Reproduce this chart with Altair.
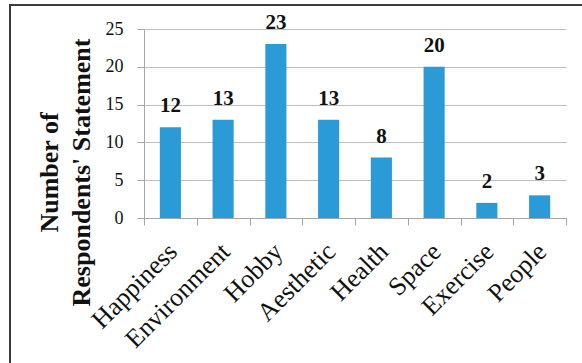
import altair as alt
import pandas as pd

# Reasons given by respondents and how many statements mention each
categories = ["Happiness", "Environment", "Hobby", "Aesthetic",
              "Health", "Space", "Exercise", "People"]
counts = [12, 13, 23, 13, 8, 20, 2, 3]
y_ticks = [0, 5, 10, 15, 20, 25]

df = pd.DataFrame({"reason": categories, "count": counts})

SERIF = "Liberation Serif"
TEXT = "#111111"
AXIS_GREY = "#A6A6A6"
BAR_BLUE = "#2A9BD7"

x_enc = alt.X(
    "reason:N",
    sort=categories,
    scale=alt.Scale(paddingInner=0, paddingOuter=0),
    axis=alt.Axis(
        title=None,
        labelAngle=-45,
        labelAlign="right",
        labelBaseline="top",
        labelPadding=13,
        labelOffset=-7,
        labelFont=SERIF,
        labelFontSize=26,
        labelColor=TEXT,
        tickBand="extent",
        tickSize=7,
        tickColor=AXIS_GREY,
        domainColor=AXIS_GREY,
        grid=False,
    ),
)

y_enc = alt.Y(
    "count:Q",
    scale=alt.Scale(domain=[0, 25], nice=False),
    axis=alt.Axis(
        values=y_ticks,
        title=["Number of", "Respondents' Statement"],
        titleFont=SERIF,
        titleFontSize=26,
        titleFontWeight="bold",
        titleColor=TEXT,
        titleAngle=270,
        titleAlign="center",
        titleBaseline="alphabetic",
        titleX=-87,
        titleY=143,
        titleLineHeight=32,
        labelFont=SERIF,
        labelFontSize=18,
        labelColor=TEXT,
        labelPadding=14,
        tickSize=7,
        tickColor=AXIS_GREY,
        domainColor=AXIS_GREY,
        gridColor="#BFBFBF",
        grid=True,
    ),
)

bars = alt.Chart(df).mark_bar(
    color=BAR_BLUE, width=alt.RelativeBandSize(0.4)
).encode(x=x_enc, y=y_enc)

labels = alt.Chart(df).mark_text(
    dy=-15, baseline="alphabetic", font=SERIF, fontSize=21,
    fontWeight="bold", color=TEXT,
).encode(x=x_enc, y=y_enc, text="count:Q")

# Outer frame around the figure
frame = alt.Chart(alt.Data(values=[{"k": 0}])).mark_rect(
    fill="transparent", stroke="#3C3C3C", strokeWidth=2
).encode(
    x=alt.value(-134), x2=alt.value(600),
    y=alt.value(-24), y2=alt.value(400),
)

chart = alt.layer(frame, bars, labels).properties(
    width=422,
    height=189,
    padding={"left": 144, "top": 29, "right": 16, "bottom": 145},
    autosize="none",
    background="white",
).configure_view(stroke=None)

chart.save("out.html", embed_options={"renderer": "svg", "actions": False})
